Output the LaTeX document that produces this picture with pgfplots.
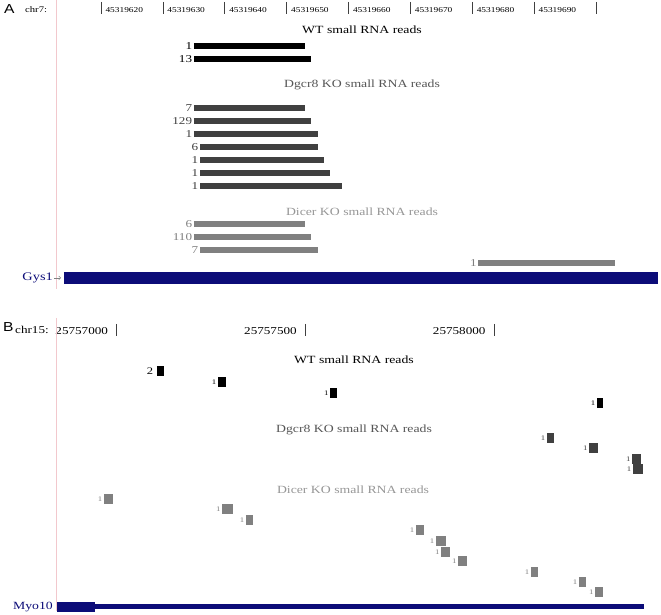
\documentclass[border=0pt]{standalone}
\usepackage{fontspec}
\setmainfont{Liberation Serif}[FakeStretch=1.25]
\newfontfamily\panelfont{Liberation Sans}[FakeStretch=1.2]
\usepackage{pgfplots}
\pgfplotsset{compat=1.18}
\usepackage{pgfplotstable}
\usetikzlibrary{arrows.meta}

\definecolor{wtc}{RGB}{0,0,0}
\definecolor{dgc}{RGB}{64,64,64}
\definecolor{dcc}{RGB}{128,128,128}
\definecolor{dgtxt}{RGB}{85,85,85}
\definecolor{dctxt}{RGB}{150,150,150}
\definecolor{genec}{RGB}{12,12,120}
\definecolor{guide}{RGB}{242,200,205}
\newcommand{\fs}[1]{\fontsize{#1}{#1}\selectfont}

% panel A: x = position - 45319600, y = 615 - pixel row; len in bp
\pgfplotstableread{
x0 len y n
35 18 569 1
35 19 556 13
}\wtA
\pgfplotstableread{
x0 len y n
35 18 507 7
35 19 494 129
35 20 481 1
36 19 468 6
36 20 455 1
36 21 442 1
36 23 429 1
}\dgA
\pgfplotstableread{
x0 len y n
35 18 391 6
35 19 378 110
36 19 365 7
81 22 352 1
}\dcA
% panel B: x = position - 25757000
\pgfplotstableread{
x0 len y n
107 19 244 2
}\wtBtop
\pgfplotstableread{
x0 len y n
269 21 233 1
566 18 222 1
1273 16 212 1
}\wtB
\pgfplotstableread{
x0 len y n
1140 19 177 1
1252 24 167 1
1366 24 156 1
1368 27 146 1
}\dgB
\pgfplotstableread{
x0 len y n
-33 24 116 1
280 29 106 1
343 19 95 1
793 21 85 1
846 27 74 1
860 24 63 1
905 24 54 1
1098 19 43 1
1225 19 33 1
1268 21 23 1
}\dcB

\pgfplotsset{
  track/.style={
    scale only axis, width=661pt, clip=false,
    axis x line*=top, axis y line=none,
    axis line style={draw=none}, ytick=\empty,
    tick align=inside, major tick length=12pt,
    tick style={line width=0.6pt, color=black!75},
  },
  reads/.style n args={3}{
    draw=none, mark=none,
    nodes near coords, point meta=explicit symbolic,
    nodes near coords align={left},
    every node near coord/.append style={text=#1, font=\fs{#3}, inner sep=1.5pt},
    error bars/x dir=plus, error bars/x explicit, error bars/error mark=none,
    error bars/error bar style={draw=#1, line width=#2pt},
  },
}

\begin{document}
\begin{tikzpicture}
\useasboundingbox (0,0) rectangle (661pt,615pt);

\begin{axis}[track, at={(0pt,315pt)}, anchor=south west,
  height=298pt, xmin=3.677, xmax=110.505, ymin=315, ymax=613,
  xtick={20,30,...,100},
  xticklabels={45319620,45319630,45319640,45319650,45319660,45319670,45319680,45319690,{}},
  xticklabel style={anchor=west, font=\fs{7.5}, yshift=-8pt, xshift=1pt}]
  \addplot[reads={wtc}{6}{10.5}] table[x=x0, y=y, x error=len, meta=n] {\wtA};
  \addplot[reads={dgc}{6}{10.5}] table[x=x0, y=y, x error=len, meta=n] {\dgA};
  \addplot[reads={dcc}{6}{10.5}] table[x=x0, y=y, x error=len, meta=n] {\dcA};
  \addplot[genec, line width=12pt] coordinates {(14,337) (110,337)};
\end{axis}

\begin{axis}[track, at={(0pt,0pt)}, anchor=south west,
  height=291pt, xmin=-308.6, xmax=1442.4, ymin=0, ymax=291,
  xtick={0,500,1000},
  xticklabels={25757000,25757500,25758000},
  xticklabel style={anchor=east, font=\fs{10.5}, yshift=-7pt, xshift=-5pt}]
  \addplot[reads={wtc}{10}{10}, every node near coord/.append style={inner sep=3.5pt}]
    table[x=x0, y=y, x error=len, meta=n] {\wtBtop};
  \addplot[reads={wtc}{10}{7}] table[x=x0, y=y, x error=len, meta=n] {\wtB};
  \addplot[reads={dgc}{10}{7}] table[x=x0, y=y, x error=len, meta=n] {\dgB};
  \addplot[reads={dcc}{10}{7}] table[x=x0, y=y, x error=len, meta=n] {\dcB};
  \addplot[genec, line width=10pt] coordinates {(-158,8) (-57,8)};
  \addplot[genec, line width=5pt] coordinates {(-57,8) (1397,8)};
\end{axis}

% guide lines
\draw[guide, line width=0.9pt] (56pt,615pt) -- (56pt,326pt);
\draw[guide, line width=0.9pt] (56pt,297pt) -- (56pt,4pt);

% panel A texts
\node[anchor=west, inner sep=0pt, font=\panelfont\fs{13}] at (4pt,606pt) {A};
\node[anchor=west, inner sep=0pt, font=\fs{8.5}] at (25pt,605pt) {chr7:};
\node[font=\fs{11}, text=black] at (362pt,585pt) {WT small RNA reads};
\node[font=\fs{11}, text=dgtxt] at (362pt,530pt) {Dgcr8 KO small RNA reads};
\node[font=\fs{11}, text=dctxt] at (362pt,403pt) {Dicer KO small RNA reads};
\node[anchor=east, inner sep=0pt, font=\fs{11.5}, text=genec] at (53pt,337pt) {Gys1};
\draw[dcc, line width=0.5pt, -{Straight Barb[length=2pt]}] (54pt,337pt) -- (61pt,337pt);

% panel B texts
\node[anchor=west, inner sep=0pt, font=\panelfont\fs{13}] at (3pt,288pt) {B};
\node[anchor=west, inner sep=0pt, font=\fs{10.5}] at (15pt,285pt) {chr15:};
\node[font=\fs{11}, text=black] at (354pt,255pt) {WT small RNA reads};
\node[font=\fs{11}, text=dgtxt] at (354pt,185pt) {Dgcr8 KO small RNA reads};
\node[font=\fs{11}, text=dctxt] at (353pt,125pt) {Dicer KO small RNA reads};
\node[anchor=east, inner sep=0pt, font=\fs{11}, text=genec] at (53pt,8pt) {Myo10};
\end{tikzpicture}
\end{document}
